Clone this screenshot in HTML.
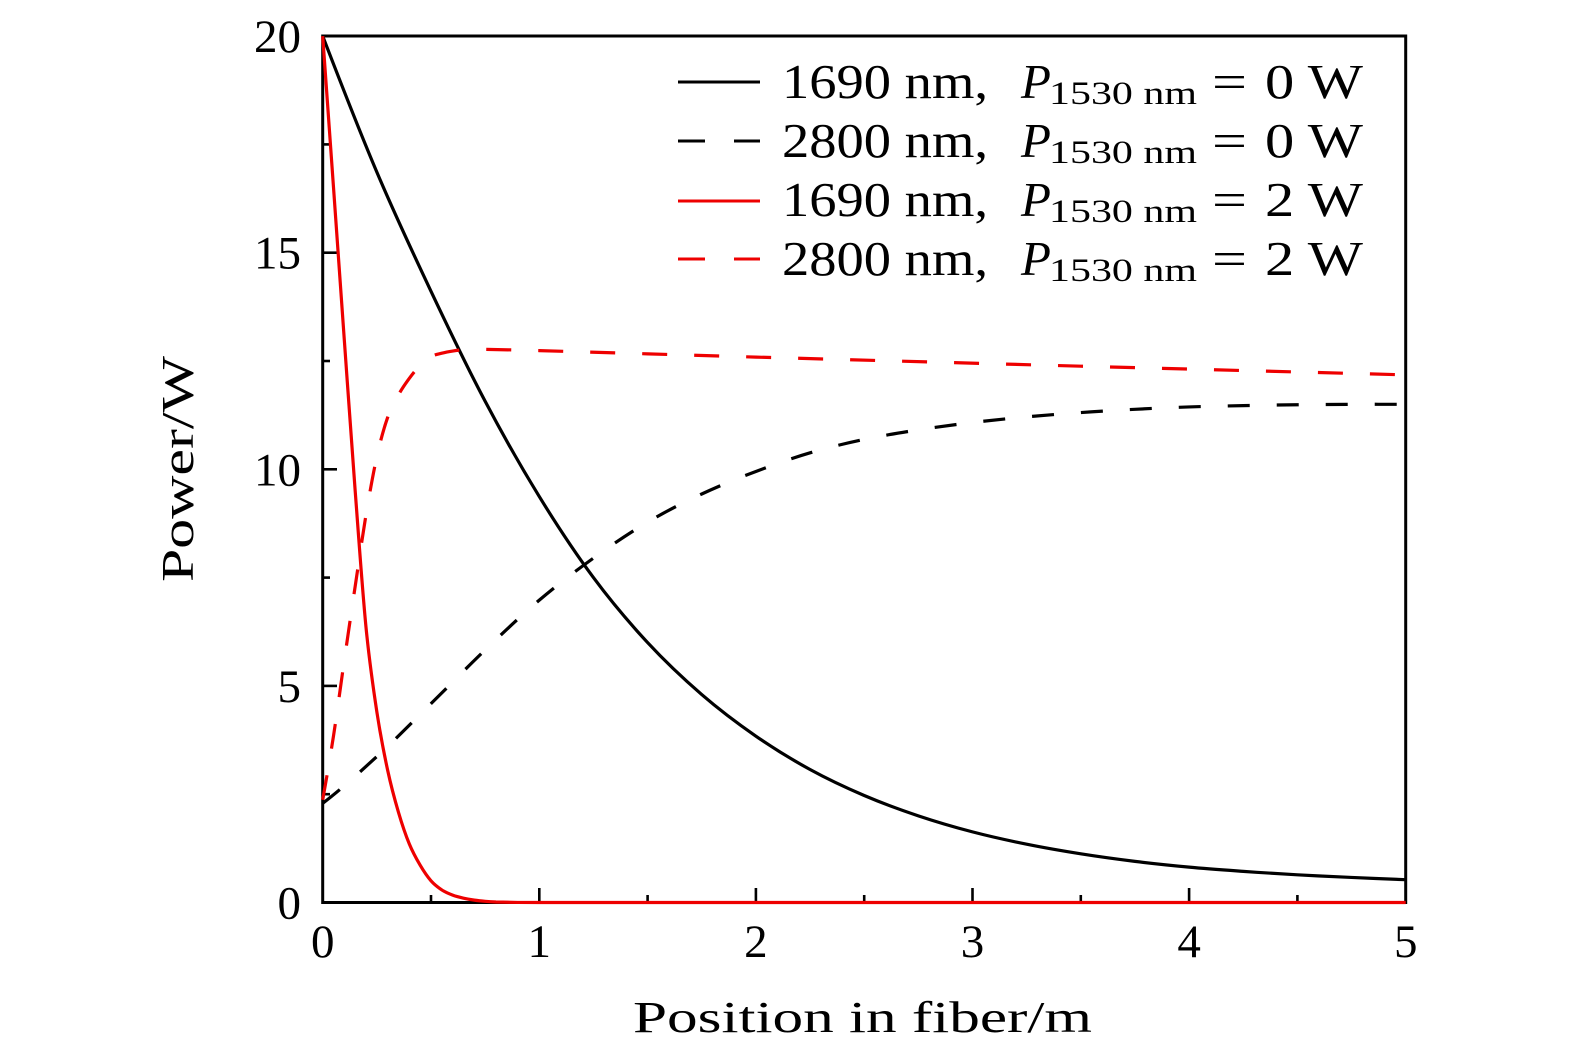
<!DOCTYPE html>
<html>
<head>
<meta charset="utf-8">
<style>
  html,body{margin:0;padding:0;background:#fff;}
  svg{display:block;}
  text{font-family:"Liberation Serif","DejaVu Serif",serif;fill:#000;}
</style>
</head>
<body>
<svg width="1575" height="1053" viewBox="0 0 1575 1053" xmlns="http://www.w3.org/2000/svg">
  <rect x="0" y="0" width="1575" height="1053" fill="#fff"/>

  <!-- ticks -->
  <g stroke="#000" stroke-width="2.6" fill="none">
    <line x1="539.3" y1="902.5" x2="539.3" y2="888"/>
    <line x1="755.9" y1="902.5" x2="755.9" y2="888"/>
    <line x1="972.5" y1="902.5" x2="972.5" y2="888"/>
    <line x1="1189.1" y1="902.5" x2="1189.1" y2="888"/>
    <line x1="431" y1="902.5" x2="431" y2="895"/>
    <line x1="647.6" y1="902.5" x2="647.6" y2="895"/>
    <line x1="864.2" y1="902.5" x2="864.2" y2="895"/>
    <line x1="1080.8" y1="902.5" x2="1080.8" y2="895"/>
    <line x1="1297.4" y1="902.5" x2="1297.4" y2="895"/>
    <line x1="322.7" y1="685.9" x2="337" y2="685.9"/>
    <line x1="322.7" y1="469.3" x2="337" y2="469.3"/>
    <line x1="322.7" y1="252.7" x2="337" y2="252.7"/>
    <line x1="322.7" y1="794.2" x2="330" y2="794.2"/>
    <line x1="322.7" y1="577.6" x2="330" y2="577.6"/>
    <line x1="322.7" y1="361" x2="330" y2="361"/>
    <line x1="322.7" y1="144.4" x2="330" y2="144.4"/>
  </g>

  <!-- frame -->
  <rect x="322.7" y="36" width="1083" height="866.5" fill="none" stroke="#000" stroke-width="3"/>

  <!-- y tick labels -->
  <g font-size="47" text-anchor="end">
    <text x="301" y="918.5">0</text>
    <text x="301" y="701.9">5</text>
    <text x="301" y="485.3">10</text>
    <text x="301" y="268.7">15</text>
    <text x="301" y="52">20</text>
  </g>
  <!-- x tick labels -->
  <g font-size="47" text-anchor="middle">
    <text x="322.7" y="957">0</text>
    <text x="539.3" y="957">1</text>
    <text x="755.9" y="957">2</text>
    <text x="972.5" y="957">3</text>
    <text x="1189.1" y="957">4</text>
    <text x="1405.7" y="957">5</text>
  </g>

  <!-- axis labels -->
  <text x="862.5" y="1032" font-size="44" text-anchor="middle" textLength="459" lengthAdjust="spacingAndGlyphs">Position in fiber/m</text>
  <text transform="translate(193,469) rotate(-90)" font-size="45" text-anchor="middle" textLength="226" lengthAdjust="spacingAndGlyphs">Power/W</text>

  <!-- curves in data units -->
  <g transform="translate(322.7,902.5) scale(216.6,-43.32)" fill="none" stroke-linejoin="round">
    <!-- 1690 nm, P=0 W : black solid -->
    <path vector-effect="non-scaling-stroke" stroke="#000" stroke-width="3.2"
      d="M0,20 C0.0833,18.917 0.1667,17.842 0.25,16.86
         C0.3333,15.878 0.4167,14.992 0.5,14.11
         C0.5833,13.228 0.6667,12.36 0.75,11.57
         C0.8333,10.78 0.9167,10.048 1,9.37
         C1.0833,8.692 1.1667,8.062 1.25,7.5
         C1.3333,6.938 1.4167,6.45 1.5,6.0
         C1.5833,5.55 1.6667,5.16 1.75,4.8
         C1.8333,4.44 1.9167,4.128 2,3.84
         C2.0833,3.552 2.1667,3.298 2.25,3.07
         C2.3333,2.842 2.4167,2.648 2.5,2.47
         C2.5833,2.292 2.6667,2.14 2.75,2.0
         C2.8333,1.86 2.9167,1.739 3,1.63
         C3.0833,1.521 3.1667,1.43 3.25,1.345
         C3.3333,1.26 3.4167,1.189 3.5,1.123
         C3.5833,1.057 3.6667,1.0 3.75,0.949
         C3.8333,0.898 3.9167,0.855 4,0.816
         C4.0833,0.777 4.1667,0.748 4.25,0.718
         C4.3333,0.688 4.4167,0.662 4.5,0.639
         C4.5833,0.616 4.6667,0.597 4.75,0.578
         C4.8333,0.559 4.9167,0.543 5,0.526"/>
    <!-- 2800 nm, P=0 W : black dashed -->
    <path vector-effect="non-scaling-stroke" stroke="#000" stroke-width="3.2" stroke-dasharray="22 27"
      d="M0,2.29 C0.0833,2.607 0.1667,2.987 0.25,3.37
         C0.3333,3.753 0.4167,4.18 0.5,4.59
         C0.5833,5.0 0.6667,5.432 0.75,5.83
         C0.8333,6.228 0.9167,6.627 1,6.98
         C1.0833,7.333 1.1667,7.65 1.25,7.95
         C1.3333,8.25 1.4167,8.533 1.5,8.78
         C1.5833,9.027 1.6667,9.235 1.75,9.43
         C1.8333,9.625 1.9167,9.792 2,9.95
         C2.0833,10.108 2.1667,10.257 2.25,10.38
         C2.3333,10.503 2.4167,10.602 2.5,10.69
         C2.5833,10.778 2.6667,10.845 2.75,10.91
         C2.8333,10.975 2.9167,11.03 3,11.08
         C3.0833,11.13 3.1667,11.172 3.25,11.21
         C3.3333,11.248 3.4167,11.281 3.5,11.31
         C3.5833,11.339 3.6667,11.363 3.75,11.385
         C3.8333,11.407 3.9167,11.426 4,11.44
         C4.0833,11.454 4.1667,11.462 4.25,11.47
         C4.3333,11.478 4.4167,11.485 4.5,11.49
         C4.5833,11.495 4.6667,11.498 4.75,11.5
         C4.8333,11.502 4.9167,11.5 5,11.5"/>
    <!-- 1690 nm, P=2 W : red solid -->
    <path vector-effect="non-scaling-stroke" stroke="#ee0000" stroke-width="3.2"
      d="M0,20 C0.0167,18.833 0.0333,17.672 0.05,16.5
         C0.0667,15.328 0.0833,14.137 0.1,12.97
         C0.1167,11.803 0.1333,10.603 0.15,9.5
         C0.1667,8.397 0.1833,7.2 0.2,6.35
         C0.2167,5.5 0.2333,4.95 0.25,4.4
         C0.2667,3.85 0.2833,3.437 0.3,3.05
         C0.3167,2.663 0.3333,2.363 0.35,2.08
         C0.3667,1.797 0.3833,1.553 0.4,1.35
         C0.4167,1.147 0.4333,1.002 0.45,0.86
         C0.4667,0.718 0.4833,0.595 0.5,0.5
         C0.5167,0.405 0.5333,0.345 0.55,0.29
         C0.5667,0.235 0.5833,0.202 0.6,0.17
         C0.6167,0.138 0.6333,0.119 0.65,0.1
         C0.6667,0.081 0.6833,0.067 0.7,0.055
         C0.7167,0.043 0.7333,0.035 0.75,0.028
         C0.7667,0.021 0.7833,0.016 0.8,0.012
         L0.9,0.002 L1,0 L5,0"/>
    <!-- 2800 nm, P=2 W : red dashed -->
    <path vector-effect="non-scaling-stroke" stroke="#ee0000" stroke-width="3.2" stroke-dasharray="25 27"
      d="M0,2.37 C0.0167,2.837 0.0333,3.312 0.05,3.85
         C0.0667,4.388 0.0833,5.025 0.1,5.6
         C0.1167,6.175 0.1333,6.742 0.15,7.3
         C0.1667,7.858 0.1833,8.452 0.2,8.95
         C0.2167,9.448 0.2333,9.915 0.25,10.29
         C0.2667,10.665 0.2833,10.962 0.3,11.2
         C0.3167,11.438 0.3333,11.57 0.35,11.72
         C0.3667,11.87 0.3833,11.987 0.4,12.1
         C0.4167,12.213 0.4333,12.317 0.45,12.4
         C0.4667,12.483 0.4833,12.553 0.5,12.6
         C0.5167,12.647 0.5333,12.658 0.55,12.68
         C0.5667,12.702 0.5833,12.717 0.6,12.73
         C0.6167,12.743 0.6333,12.753 0.65,12.76
         C0.6667,12.767 0.6833,12.77 0.7,12.77
         C0.8,12.77 0.9,12.75 1,12.74
         C1.333,12.69 1.667,12.64 2,12.59
         C2.5,12.52 3,12.45 3.5,12.38
         C4,12.313 4.5,12.247 5,12.18"/>
  </g>

  <!-- legend -->
  <g stroke-width="3">
    <line x1="678" y1="82" x2="760" y2="82" stroke="#000"/>
    <line x1="678" y1="141" x2="705" y2="141" stroke="#000"/>
    <line x1="734" y1="141" x2="760" y2="141" stroke="#000"/>
    <line x1="678" y1="201" x2="760" y2="201" stroke="#ee0000"/>
    <line x1="678" y1="259" x2="705" y2="259" stroke="#ee0000"/>
    <line x1="734" y1="259" x2="760" y2="259" stroke="#ee0000"/>
  </g>
  <g font-size="49">
    <text x="782" y="98" textLength="206" lengthAdjust="spacingAndGlyphs">1690 nm,</text>
    <text x="1021" y="98" font-style="italic">P</text>
    <text x="1049" y="104" font-size="33" textLength="148" lengthAdjust="spacingAndGlyphs">1530 nm</text>
    <text x="1212" y="98" textLength="35" lengthAdjust="spacingAndGlyphs">=</text>
    <text x="1265" y="98" textLength="98" lengthAdjust="spacingAndGlyphs">0 W</text>

    <text x="782" y="157" textLength="206" lengthAdjust="spacingAndGlyphs">2800 nm,</text>
    <text x="1021" y="157" font-style="italic">P</text>
    <text x="1049" y="163" font-size="33" textLength="148" lengthAdjust="spacingAndGlyphs">1530 nm</text>
    <text x="1212" y="157" textLength="35" lengthAdjust="spacingAndGlyphs">=</text>
    <text x="1265" y="157" textLength="98" lengthAdjust="spacingAndGlyphs">0 W</text>

    <text x="782" y="216" textLength="206" lengthAdjust="spacingAndGlyphs">1690 nm,</text>
    <text x="1021" y="216" font-style="italic">P</text>
    <text x="1049" y="222" font-size="33" textLength="148" lengthAdjust="spacingAndGlyphs">1530 nm</text>
    <text x="1212" y="216" textLength="35" lengthAdjust="spacingAndGlyphs">=</text>
    <text x="1265" y="216" textLength="98" lengthAdjust="spacingAndGlyphs">2 W</text>

    <text x="782" y="275" textLength="206" lengthAdjust="spacingAndGlyphs">2800 nm,</text>
    <text x="1021" y="275" font-style="italic">P</text>
    <text x="1049" y="281" font-size="33" textLength="148" lengthAdjust="spacingAndGlyphs">1530 nm</text>
    <text x="1212" y="275" textLength="35" lengthAdjust="spacingAndGlyphs">=</text>
    <text x="1265" y="275" textLength="98" lengthAdjust="spacingAndGlyphs">2 W</text>
  </g>
</svg>
</body>
</html>
